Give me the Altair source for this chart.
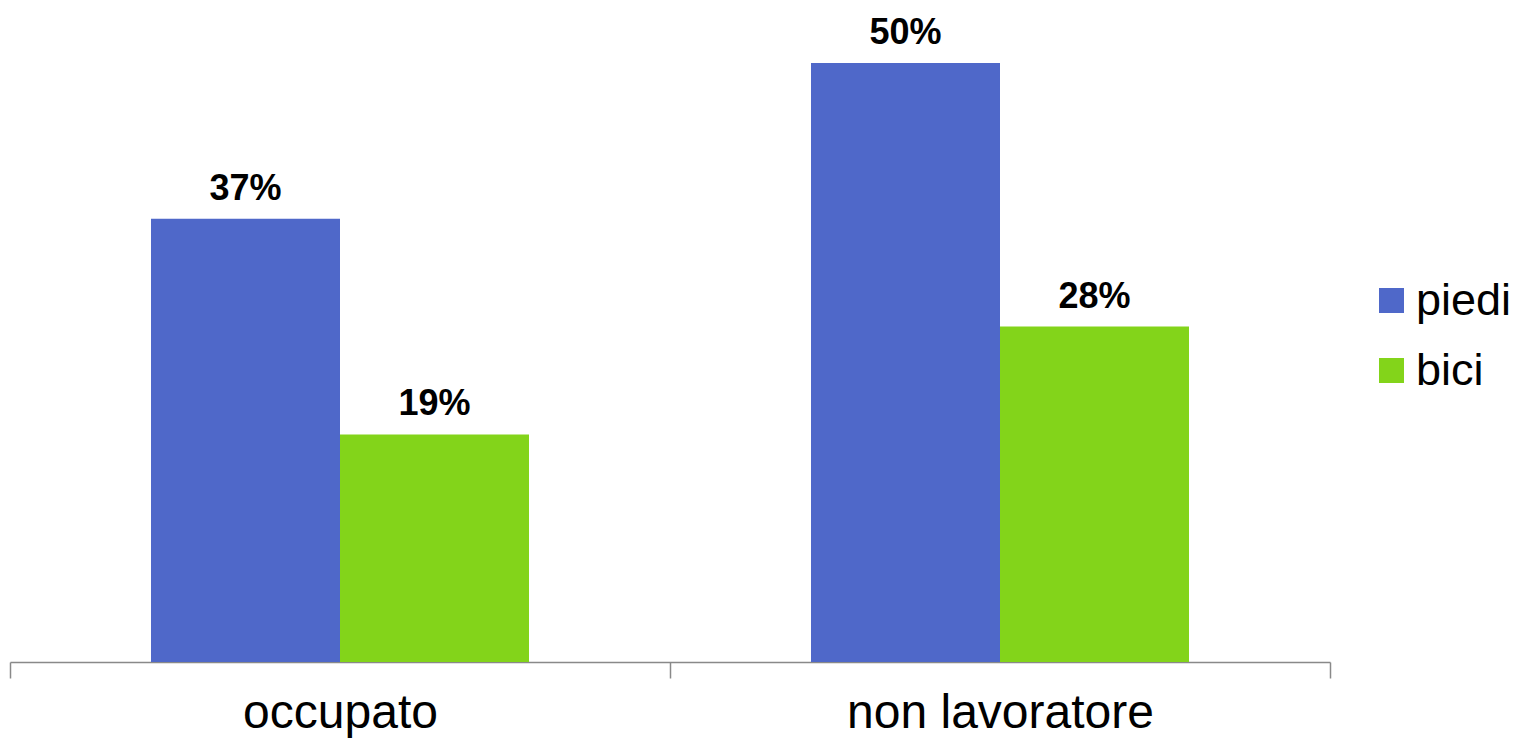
import altair as alt
import pandas as pd

categories = ["occupato", "non lavoratore"]
modes = ["piedi", "bici"]
piedi = [37, 50]
bici = [19, 28]
colors = ["#4F68C9", "#83D41A"]

rows = []
for i, c in enumerate(categories):
    rows.append({"cat": c, "mode": "piedi", "value": piedi[i]})
    rows.append({"cat": c, "mode": "bici", "value": bici[i]})
df = pd.DataFrame(rows)
df["label"] = df["value"].astype(str) + "%"

FONT = "Liberation Sans"

x = alt.X(
    "cat:N",
    sort=categories,
    title=None,
    scale=alt.Scale(paddingInner=0, paddingOuter=0),
    axis=alt.Axis(
        tickBand="extent",
        labelAngle=0,
        labelFontSize=48,
        labelFont=FONT,
        labelColor="black",
        labelLimit=1000,
        domainColor="#898989",
        tickColor="#898989",
        domainWidth=1.5,
        tickWidth=1.5,
        tickSize=16,
        labelPadding=49,
        labelBaseline="alphabetic",
        grid=False,
    ),
)
xo = alt.XOffset("mode:N", sort=modes, scale=alt.Scale(paddingInner=0, paddingOuter=0.746))
y = alt.Y("value:Q", scale=alt.Scale(domain=[0, 54.6]), axis=None)

bars = alt.Chart(df).mark_bar().encode(
    x=x,
    xOffset=xo,
    y=y,
    color=alt.Color(
        "mode:N",
        sort=modes,
        scale=alt.Scale(domain=modes, range=colors),
        legend=alt.Legend(
            title=None,
            orient="none",
            legendX=1359,
            legendY=270,
            symbolType="square",
            symbolSize=625,
            symbolStrokeWidth=0,
            labelFontSize=45,
            labelFont=FONT,
            labelColor="black",
            labelOffset=2,
            rowPadding=24,
            padding=0,
        ),
    ),
)

labels = alt.Chart(df).mark_text(
    dy=-19, baseline="alphabetic", fontSize=36, fontWeight="bold", font=FONT, color="black"
).encode(x=x, xOffset=xo, y=y, text="label:N")

chart = (
    alt.layer(bars, labels)
    .properties(
        width=1320,
        height=654,
        autosize=alt.AutoSizeParams(type="none"),
        padding={"left": 2, "top": 0, "right": 182, "bottom": 76},
    )
    .configure_view(stroke=None)
)

chart.save("out.html", embed_options={"renderer": "svg", "actions": False})
